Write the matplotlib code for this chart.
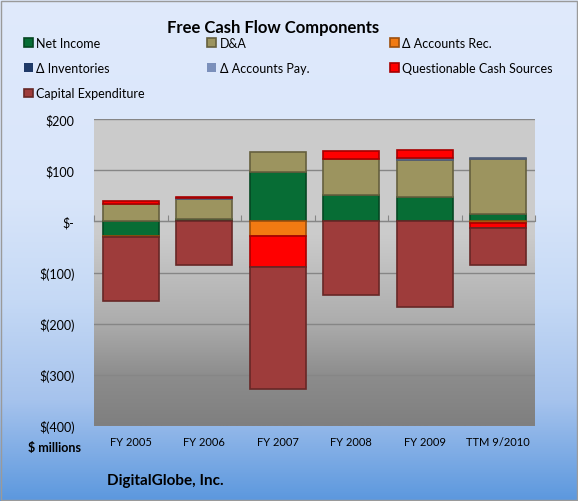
import numpy as np
import matplotlib.pyplot as plt
from matplotlib.colors import LinearSegmentedColormap, to_rgb
from matplotlib.patches import Rectangle

plt.rcParams['font.family'] = ['Lato', 'DejaVu Sans']

categories = ["FY 2005", "FY 2006", "FY 2007", "FY 2008", "FY 2009", "TTM 9/2010"]
net_income = [-29, 5, 96, 52, 48, 15]
dna = [33, 38, 40, 70, 72, 107]
accounts_rec = [-2, 0, -29, 0, 0, -3]
inventories = [0, 0, 0, 0, 0, 0]
accounts_pay = [0, 3, 0, 0, 3, 2]
questionable = [6, 2, -60, 15, 16, -10]
capex = [-125, -85, -239, -143, -168, -72]

series = [
    ("Net Income", net_income, "#076d35"),
    ("D&A", dna, "#9c945f"),
    ("\u0394 Accounts Rec.", accounts_rec, "#f27a12"),
    ("\u0394 Inventories", inventories, "#1f3a68"),
    ("\u0394 Accounts Pay.", accounts_pay, "#7b90bb"),
    ("Questionable Cash Sources", questionable, "#ff0000"),
    ("Capital Expenditure", capex, "#9e3c3b"),
]

fig = plt.figure(figsize=(5.78, 5.02), dpi=100)

# figure background gradient
bg = fig.add_axes([0, 0, 1, 1], zorder=-10)
bg_cmap = LinearSegmentedColormap.from_list(
    "bg", [(0, "#e0eafc"), (0.4, "#d8e5fa"), (0.6, "#c5d9f5"),
           (0.8, "#a6c3ed"), (1.0, "#5c98de")])
bg.imshow(np.linspace(0, 1, 256).reshape(-1, 1), aspect="auto", cmap=bg_cmap,
          extent=[0, 1, 1, 0])
bg.add_patch(Rectangle((0.002, 0.002), 0.996, 0.994, fill=False,
                       edgecolor="#9a9a9a", lw=1, transform=bg.transAxes))
bg.set_axis_off()

ax = fig.add_axes([94 / 578, 1 - 427 / 502, 441 / 578, 307 / 502])
ax.set_facecolor("none")

# plot area gradient
pa_cmap = LinearSegmentedColormap.from_list(
    "pa", [(0, "#cccccc"), (0.38, "#cbcbcb"), (0.66, "#adadad"),
           (0.84, "#8c8c8c"), (1.0, "#7f7f7f")])
ax.imshow(np.linspace(0, 1, 256).reshape(-1, 1), aspect="auto", cmap=pa_cmap,
          extent=[-0.5, 5.5, -400, 200], zorder=0)

x = np.arange(len(categories))
pos_bottom = np.zeros(len(categories))
neg_bottom = np.zeros(len(categories))
handles = []
for name, vals, col in series:
    vals = np.array(vals, dtype=float)
    bottom = np.where(vals >= 0, pos_bottom, neg_bottom)
    edge = tuple(c * 0.65 for c in to_rgb(col))
    lw = np.where(vals == 0, 0.0, 1.2)
    b = ax.bar(x, vals, 0.76, bottom=bottom, color=col, edgecolor=edge,
               linewidth=lw, label=name, zorder=3)
    handles.append(b)
    pos_bottom += np.where(vals > 0, vals, 0)
    neg_bottom += np.where(vals < 0, vals, 0)

ax.set_xlim(-0.5, 5.5)
ax.set_ylim(-400, 200)
ax.set_yticks([200, 100, 0, -100, -200, -300, -400])
ax.set_yticklabels(["$200", "$100", "$-", "$(100)", "$(200)", "$(300)", "$(400)"],
                   fontsize=9)
ax.tick_params(axis="y", length=0, pad=14)
ax.grid(axis="y", color="#868686", lw=1, zorder=1)
ax.set_axisbelow(True)
for s in ["left", "right", "top"]:
    ax.spines[s].set_visible(False)
ax.spines["bottom"].set_position(("data", 0))
ax.spines["bottom"].set_color("#868686")
ax.spines["bottom"].set_zorder(2)
ax.set_xticks(np.arange(len(categories) + 1) - 0.5)
ax.tick_params(axis="x", direction="in", length=4, color="#868686",
               labelbottom=False)

sec = ax.secondary_xaxis(0)
sec.set_xticks(x)
sec.set_xticklabels(categories, fontsize=8)
sec.tick_params(length=0, pad=7)
sec.spines["bottom"].set_visible(False)

fig.text(273 / 578, 1 - 28 / 502, "Free Cash Flow Components", ha="center",
         va="center", fontsize=12, fontweight="bold")
fig.text(81 / 578, 1 - 448 / 502, "$ millions", ha="right", va="center",
         fontsize=9, fontweight="bold")
fig.text(107 / 578, 1 - 481 / 502, "DigitalGlobe, Inc.", ha="left",
         va="center", fontsize=11, fontweight="bold")

# legend: three columns placed separately
columns = [[0, 3, 6], [1, 4], [2, 5]]
col_x = [24, 207, 390]
for idx, cx in zip(columns, col_x):
    leg = fig.legend([handles[i] for i in idx], [series[i][0] for i in idx],
                     loc="upper left", bbox_to_anchor=(cx / 578, 1 - 38 / 502),
                     frameon=False, fontsize=9, handlelength=0.7,
                     handleheight=0.7, handletextpad=0.3, labelspacing=1.05,
                     borderaxespad=0, borderpad=0)

fig.savefig("out.png", dpi=100)
